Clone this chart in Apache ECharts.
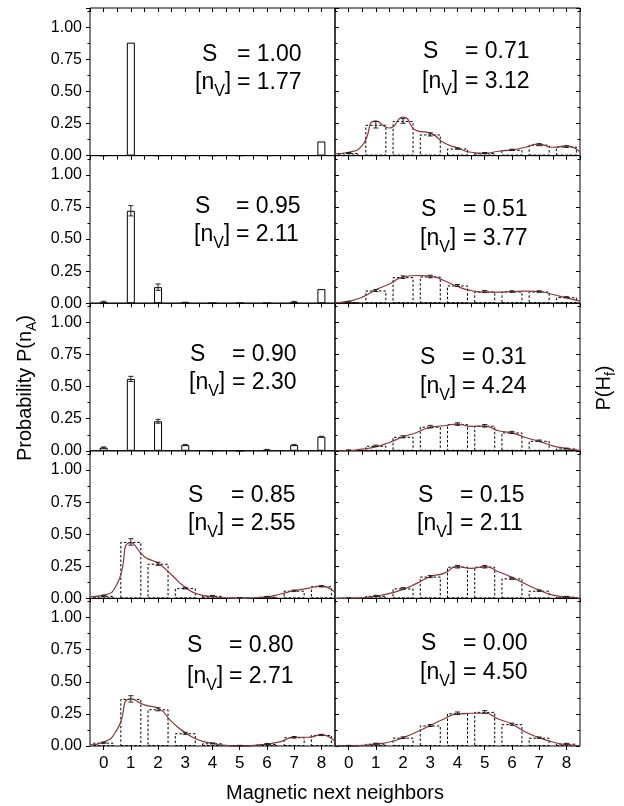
<!DOCTYPE html>
<html>
<head>
<meta charset="utf-8">
<title>Magnetic next neighbors</title>
<script src="https://cdn.jsdelivr.net/npm/echarts@6/dist/echarts.min.js"></script>
<style>
  html, body { margin: 0; padding: 0; background: #fff; }
  #main { width: 624px; height: 806px; }
</style>
</head>
<body>
<div id="main"></div>
<script>
// x categories and the x positions of the fitted curves
var neighbors = [0, 1, 2, 3, 4, 5, 6, 7, 8];
var fitX = [-0.5, 0, 0.5, 1, 1.5, 2, 2.5, 3, 3.5, 4, 4.5, 5, 5.5, 6, 6.5, 7, 7.5, 8, 8.5];
var yTickLabels = [0, 0.25, 0.5, 0.75, 1.0];

// left column, P(nA)
var probS100 = [0, 0.88, 0, 0, 0, 0, 0, 0, 0.11];
var errS100  = [0, 0, 0, 0, 0, 0, 0, 0, 0];
var probS095 = [0.01, 0.72, 0.125, 0.005, 0, 0, 0, 0.01, 0.11];
var errS095  = [0.005, 0.04, 0.025, 0.003, 0, 0, 0, 0.004, 0];
var probS090 = [0.025, 0.56, 0.23, 0.045, 0.003, 0, 0.008, 0.045, 0.11];
var errS090  = [0.005, 0.02, 0.015, 0.005, 0, 0, 0.003, 0.005, 0.003];
var probS085 = [0.02, 0.44, 0.27, 0.08, 0.02, 0.005, 0.013, 0.06, 0.095];
var errS085  = [0.004, 0.025, 0.012, 0.006, 0.003, 0.002, 0.003, 0.005, 0.005];
var fitS085  = [0.013, 0.025, 0.115, 0.435, 0.325, 0.273, 0.182, 0.086, 0.031, 0.013, 0.005, 0, 0.005, 0.013, 0.034, 0.06, 0.078, 0.096, 0.044];
var probS080 = [0.026, 0.367, 0.286, 0.099, 0.021, 0.003, 0.016, 0.068, 0.086];
var errS080  = [0.004, 0.025, 0.012, 0.008, 0.003, 0.002, 0.004, 0.006, 0.005];
var fitS080  = [0.008, 0.03, 0.13, 0.367, 0.32, 0.294, 0.19, 0.104, 0.047, 0.021, 0.005, 0, 0.005, 0.016, 0.034, 0.068, 0.068, 0.086, 0.034];

// right column, P(Hf)
var probS071 = [0.02, 0.24, 0.27, 0.165, 0.055, 0.02, 0.045, 0.085, 0.07];
var errS071  = [0.004, 0.025, 0.018, 0.012, 0.005, 0.004, 0.005, 0.008, 0.006];
var fitS071  = [0.013, 0.026, 0.08, 0.27, 0.215, 0.30, 0.195, 0.175, 0.10, 0.06, 0.026, 0.018, 0.034, 0.044, 0.065, 0.09, 0.065, 0.075, 0.026];
var probS051 = [0.008, 0.099, 0.203, 0.208, 0.138, 0.091, 0.091, 0.091, 0.047];
var errS051  = [0.003, 0.008, 0.01, 0.01, 0.008, 0.008, 0.006, 0.006, 0.004];
var fitS051  = [0.003, 0.016, 0.047, 0.104, 0.15, 0.203, 0.216, 0.21, 0.177, 0.13, 0.099, 0.086, 0.086, 0.091, 0.094, 0.091, 0.068, 0.042, 0.016];
var probS031 = [0.005, 0.039, 0.109, 0.188, 0.208, 0.195, 0.143, 0.078, 0.018];
var errS031  = [0.002, 0.005, 0.008, 0.01, 0.01, 0.01, 0.008, 0.006, 0.003];
var fitS031  = [0, 0.002, 0.013, 0.031, 0.065, 0.109, 0.143, 0.182, 0.195, 0.208, 0.19, 0.193, 0.156, 0.14, 0.104, 0.073, 0.039, 0.018, 0.003];
var probS015 = [0.002, 0.02, 0.078, 0.17, 0.247, 0.247, 0.156, 0.06, 0.013];
var errS015  = [0.002, 0.004, 0.006, 0.008, 0.01, 0.01, 0.008, 0.005, 0.003];
var fitS015  = [0, 0.001, 0.005, 0.018, 0.039, 0.07, 0.117, 0.17, 0.195, 0.247, 0.234, 0.247, 0.208, 0.164, 0.112, 0.065, 0.026, 0.013, 0.002];
var probS000 = [0.003, 0.018, 0.065, 0.16, 0.255, 0.266, 0.17, 0.065, 0.018];
var errS000  = [0.002, 0.004, 0.006, 0.008, 0.01, 0.01, 0.008, 0.005, 0.003];
var fitS000  = [0, 0.001, 0.005, 0.016, 0.031, 0.065, 0.109, 0.16, 0.21, 0.25, 0.255, 0.255, 0.21, 0.17, 0.109, 0.065, 0.031, 0.01, 0.002];

var sValues  = ['1.00', '0.95', '0.90', '0.85', '0.80', '0.71', '0.51', '0.31', '0.15', '0.00'];
var nvValues = ['1.77', '2.11', '2.30', '2.55', '2.71', '3.12', '3.77', '4.24', '2.11', '4.50'];

var panels = [
  {col: 0, row: 0, prob: probS100, err: errS100, fit: null,     kind: 'thin'},
  {col: 0, row: 1, prob: probS095, err: errS095, fit: null,     kind: 'thin'},
  {col: 0, row: 2, prob: probS090, err: errS090, fit: null,     kind: 'thin'},
  {col: 0, row: 3, prob: probS085, err: errS085, fit: fitS085,  kind: 'dash'},
  {col: 0, row: 4, prob: probS080, err: errS080, fit: fitS080,  kind: 'dash'},
  {col: 1, row: 0, prob: probS071, err: errS071, fit: fitS071,  kind: 'dash'},
  {col: 1, row: 1, prob: probS051, err: errS051, fit: fitS051,  kind: 'dash'},
  {col: 1, row: 2, prob: probS031, err: errS031, fit: fitS031,  kind: 'dash'},
  {col: 1, row: 3, prob: probS015, err: errS015, fit: fitS015,  kind: 'dash'},
  {col: 1, row: 4, prob: probS000, err: errS000, fit: fitS000,  kind: 'dash'}
];

// annotation placement inside each panel (px from panel left/top)
var notePos = [
  {s: 112, br: 105, eq: 147, y1: 47, y2: 75},
  {s: 105, br: 104, eq: 146, y1: 51, y2: 79},
  {s: 100, br: 99,  eq: 142, y1: 51, y2: 79},
  {s: 98,  br: 98,  eq: 141, y1: 45, y2: 73},
  {s: 97,  br: 97,  eq: 139, y1: 47, y2: 78},
  {s: 88,  br: 87,  eq: 130, y1: 44, y2: 74},
  {s: 86,  br: 85,  eq: 128, y1: 54, y2: 83},
  {s: 85,  br: 85,  eq: 127, y1: 54, y2: 83},
  {s: 83,  br: 82,  eq: 125, y1: 45, y2: 73},
  {s: 86,  br: 85,  eq: 128, y1: 45, y2: 74}
];

var FONT = '"Liberation Sans", Arial, sans-serif';
var colLeft = [90, 335];
var colWidth = 245;
var top0 = 8;
var rowH = 147.6;
var fitColor = '#8b3535';

var ctx = document.createElement('canvas').getContext('2d');
function textW(t, size) {
  ctx.font = size + 'px ' + FONT;
  return ctx.measureText(t).width;
}

function txt(x, y, text, size, extra) {
  var el = {
    type: 'text', x: x, y: y, silent: true,
    style: {
      text: text, fontSize: size, fontFamily: FONT, fill: '#000',
      align: 'left', verticalAlign: 'middle',
      textAlign: 'left', textVerticalAlign: 'middle'
    }
  };
  if (extra) for (var k in extra) el[k] = extra[k];
  return el;
}

function renderErr(params, api) {
  var x = api.value(0), y = api.value(1), e = api.value(2);
  if (!(e > 0)) return;
  var hi = api.coord([x, y + e]);
  var lo = api.coord([x, y - e]);
  var w = 2.5;
  var st = {stroke: '#222', lineWidth: 1};
  return {
    type: 'group',
    children: [
      {type: 'line', shape: {x1: hi[0], y1: hi[1], x2: lo[0], y2: lo[1]}, style: st},
      {type: 'line', shape: {x1: hi[0] - w, y1: hi[1], x2: hi[0] + w, y2: hi[1]}, style: st},
      {type: 'line', shape: {x1: lo[0] - w, y1: lo[1], x2: lo[0] + w, y2: lo[1]}, style: st}
    ]
  };
}

var grids = [], xAxes = [], yAxes = [], series = [], graphics = [];

panels.forEach(function (p, i) {
  var gx = colLeft[p.col];
  var gy = top0 + p.row * rowH;
  grids.push({
    left: gx, top: gy, width: colWidth, height: rowH,
    show: true, borderColor: '#000', borderWidth: 1, backgroundColor: 'transparent'
  });
  var isBottom = p.row === 4;
  // bottom axis
  xAxes.push({
    type: 'value', gridIndex: i, min: -0.5, max: 8.5, interval: 0.5,
    axisLine: {show: false, onZero: false},
    axisTick: {show: true, inside: false, length: 4, customValues: neighbors, lineStyle: {color: '#000'}},
    axisLabel: {
      show: isBottom, customValues: neighbors, margin: 9,
      fontSize: 17, fontFamily: FONT, color: '#000'
    },
    splitLine: {show: false}
  });
  // top axis, ticks pointing in
  xAxes.push({
    type: 'value', gridIndex: i, position: 'top', min: -0.5, max: 8.5, interval: 0.5,
    axisLine: {show: false, onZero: false},
    axisTick: {show: true, inside: true, length: 4, lineStyle: {color: '#000'}},
    axisLabel: {show: false},
    splitLine: {show: false}
  });
  yAxes.push({
    type: 'value', gridIndex: i, min: 0, max: 1.15, interval: 0.25,
    axisLine: {show: false, onZero: false},
    axisTick: {show: true, inside: p.col === 1, length: 4, lineStyle: {color: '#000'}},
    minorTick: {show: true, splitNumber: 2, length: 2.5, lineStyle: {color: '#000'}},
    axisLabel: {
      show: p.col === 0, customValues: yTickLabels, margin: 8,
      fontSize: 16, fontFamily: FONT, color: '#000',
      formatter: function (v) { return v.toFixed(2); }
    },
    splitLine: {show: false}
  });
  yAxes.push({
    type: 'value', gridIndex: i, position: 'right', min: 0, max: 1.15, interval: 0.25,
    show: p.col === 1,
    axisLine: {show: false, onZero: false},
    axisTick: {show: true, inside: true, length: 4, lineStyle: {color: '#000'}},
    minorTick: {show: true, splitNumber: 2, length: 2.5, lineStyle: {color: '#000'}},
    axisLabel: {show: false},
    splitLine: {show: false}
  });

  var xi = 2 * i, yi = 2 * i;
  var thin = p.kind === 'thin';
  series.push({
    type: 'bar', xAxisIndex: xi, yAxisIndex: yi,
    barWidth: thin ? 8 : 21,
    data: p.prob.map(function (v, k) { return [neighbors[k], v]; }),
    itemStyle: thin
      ? {color: '#fff', borderColor: '#000', borderWidth: 1}
      : {color: 'rgba(0,0,0,0)', borderColor: '#000', borderWidth: 1, borderType: [2.5, 2]},
    silent: true, z: 2
  });
  if (p.fit) {
    series.push({
      type: 'line', xAxisIndex: xi, yAxisIndex: yi, smooth: 0.6,
      showSymbol: false, symbol: 'none',
      data: p.fit.map(function (v, k) { return [fitX[k], v]; }),
      lineStyle: {color: fitColor, width: 1.2},
      silent: true, z: 3
    });
  }
  series.push({
    type: 'custom', xAxisIndex: xi, yAxisIndex: yi,
    renderItem: renderErr,
    data: p.prob.map(function (v, k) { return [neighbors[k], v, p.err[k]]; }),
    encode: {x: 0, y: 1},
    silent: true, z: 4
  });

  // annotation text
  var L = notePos[i];
  var big = 23, sub = 16;
  graphics.push(txt(gx + L.s, gy + L.y1, 'S', big));
  graphics.push(txt(gx + L.eq, gy + L.y1, '= ' + sValues[i], big));
  var bx = gx + L.br;
  graphics.push(txt(bx, gy + L.y2, '[n', big));
  bx += textW('[n', big);
  graphics.push(txt(bx, gy + L.y2 + 9, 'V', sub));
  bx += textW('V', sub);
  graphics.push(txt(bx, gy + L.y2, ']', big));
  graphics.push(txt(gx + L.eq, gy + L.y2, '= ' + nvValues[i], big));
});

// axis titles
var ts = 20, tsub = 14;
var wMain = textW('Probability P(n', ts), wA = textW('A', tsub), wP = textW(')', ts);
var totL = wMain + wA + wP;
graphics.push({
  type: 'group', x: 25, y: 388 + totL / 2, rotation: Math.PI / 2,
  children: [
    txt(0, 0, 'Probability P(n', ts),
    txt(wMain, 7, 'A', tsub),
    txt(wMain + wA, 0, ')', ts)
  ]
});
var wH = textW('P(H', ts), wf = textW('f', tsub);
var totR = wH + wf + wP;
graphics.push({
  type: 'group', x: 604, y: 388 + totR / 2, rotation: Math.PI / 2,
  children: [
    txt(0, 0, 'P(H', ts),
    txt(wH, 7, 'f', tsub),
    txt(wH + wf, 0, ')', ts)
  ]
});
graphics.push({
  type: 'text', x: 335, y: 793, silent: true,
  style: {
    text: 'Magnetic next neighbors', fontSize: 20, fontFamily: FONT, fill: '#000',
    align: 'center', verticalAlign: 'middle', textAlign: 'center', textVerticalAlign: 'middle'
  }
});

var chart = echarts.init(document.getElementById('main'));
chart.setOption({
  backgroundColor: '#fff',
  animation: false,
  grid: grids,
  xAxis: xAxes,
  yAxis: yAxes,
  series: series,
  graphic: {elements: graphics}
});
</script>
</body>
</html>
